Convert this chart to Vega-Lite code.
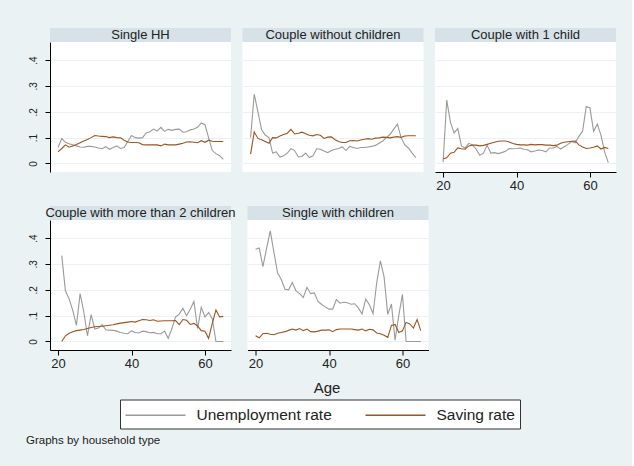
{
  "$schema": "https://vega.github.io/schema/vega-lite/v6.json",
  "background": "#EAF2F3",
  "padding": {"left": 26, "top": 28, "right": 16, "bottom": 19},
  "config": {"font": "Liberation Sans", "view": {"stroke": null}},
  "title": {"text": "Graphs by household type", "orient": "bottom", "anchor": "start", "frame": "bounds", "fontSize": 11.5, "fontWeight": "normal", "color": "#222222", "offset": 6, "dx": -2},
  "datasets": {
    "p1": [
      {"age":20,"Unemployment rate":0.062,"Saving rate":0.045},{"age":21,"Unemployment rate":0.097,"Saving rate":0.058},{"age":22,"Unemployment rate":0.082,"Saving rate":0.072},{"age":23,"Unemployment rate":0.076,"Saving rate":0.063},{"age":24,"Unemployment rate":0.072,"Saving rate":0.068},{"age":25,"Unemployment rate":0.068,"Saving rate":0.073},{"age":26,"Unemployment rate":0.064,"Saving rate":0.080},{"age":27,"Unemployment rate":0.063,"Saving rate":0.087},{"age":28,"Unemployment rate":0.066,"Saving rate":0.093},{"age":29,"Unemployment rate":0.066,"Saving rate":0.100},{"age":30,"Unemployment rate":0.064,"Saving rate":0.108},{"age":31,"Unemployment rate":0.060,"Saving rate":0.106},{"age":32,"Unemployment rate":0.057,"Saving rate":0.105},{"age":33,"Unemployment rate":0.065,"Saving rate":0.104},{"age":34,"Unemployment rate":0.055,"Saving rate":0.100},{"age":35,"Unemployment rate":0.062,"Saving rate":0.103},{"age":36,"Unemployment rate":0.068,"Saving rate":0.100},{"age":37,"Unemployment rate":0.058,"Saving rate":0.099},{"age":38,"Unemployment rate":0.062,"Saving rate":0.090},{"age":39,"Unemployment rate":0.085,"Saving rate":0.083},{"age":40,"Unemployment rate":0.108,"Saving rate":0.081},{"age":41,"Unemployment rate":0.100,"Saving rate":0.081},{"age":42,"Unemployment rate":0.098,"Saving rate":0.080},{"age":43,"Unemployment rate":0.100,"Saving rate":0.073},{"age":44,"Unemployment rate":0.118,"Saving rate":0.072},{"age":45,"Unemployment rate":0.123,"Saving rate":0.072},{"age":46,"Unemployment rate":0.133,"Saving rate":0.072},{"age":47,"Unemployment rate":0.125,"Saving rate":0.072},{"age":48,"Unemployment rate":0.140,"Saving rate":0.068},{"age":49,"Unemployment rate":0.124,"Saving rate":0.075},{"age":50,"Unemployment rate":0.132,"Saving rate":0.072},{"age":51,"Unemployment rate":0.128,"Saving rate":0.072},{"age":52,"Unemployment rate":0.132,"Saving rate":0.072},{"age":53,"Unemployment rate":0.133,"Saving rate":0.075},{"age":54,"Unemployment rate":0.121,"Saving rate":0.078},{"age":55,"Unemployment rate":0.123,"Saving rate":0.083},{"age":56,"Unemployment rate":0.130,"Saving rate":0.084},{"age":57,"Unemployment rate":0.133,"Saving rate":0.082},{"age":58,"Unemployment rate":0.140,"Saving rate":0.080},{"age":59,"Unemployment rate":0.157,"Saving rate":0.088},{"age":60,"Unemployment rate":0.150,"Saving rate":0.082},{"age":61,"Unemployment rate":0.100,"Saving rate":0.090},{"age":62,"Unemployment rate":0.050,"Saving rate":0.086},{"age":63,"Unemployment rate":0.038,"Saving rate":0.085},{"age":64,"Unemployment rate":0.030,"Saving rate":0.085},{"age":65,"Unemployment rate":0.016,"Saving rate":0.085}
    ],
    "p2": [
      {"age":20,"Unemployment rate":0.100,"Saving rate":0.036},{"age":21,"Unemployment rate":0.268,"Saving rate":0.122},{"age":22,"Unemployment rate":0.200,"Saving rate":0.097},{"age":23,"Unemployment rate":0.130,"Saving rate":0.092},{"age":24,"Unemployment rate":0.110,"Saving rate":0.085},{"age":25,"Unemployment rate":0.100,"Saving rate":0.078},{"age":26,"Unemployment rate":0.040,"Saving rate":0.100},{"age":27,"Unemployment rate":0.045,"Saving rate":0.099},{"age":28,"Unemployment rate":0.025,"Saving rate":0.106},{"age":29,"Unemployment rate":0.030,"Saving rate":0.112},{"age":30,"Unemployment rate":0.040,"Saving rate":0.117},{"age":31,"Unemployment rate":0.057,"Saving rate":0.132},{"age":32,"Unemployment rate":0.050,"Saving rate":0.114},{"age":33,"Unemployment rate":0.025,"Saving rate":0.117},{"age":34,"Unemployment rate":0.027,"Saving rate":0.121},{"age":35,"Unemployment rate":0.040,"Saving rate":0.115},{"age":36,"Unemployment rate":0.023,"Saving rate":0.109},{"age":37,"Unemployment rate":0.030,"Saving rate":0.107},{"age":38,"Unemployment rate":0.057,"Saving rate":0.112},{"age":39,"Unemployment rate":0.055,"Saving rate":0.109},{"age":40,"Unemployment rate":0.048,"Saving rate":0.097},{"age":41,"Unemployment rate":0.042,"Saving rate":0.102},{"age":42,"Unemployment rate":0.050,"Saving rate":0.103},{"age":43,"Unemployment rate":0.055,"Saving rate":0.092},{"age":44,"Unemployment rate":0.058,"Saving rate":0.085},{"age":45,"Unemployment rate":0.064,"Saving rate":0.081},{"age":46,"Unemployment rate":0.050,"Saving rate":0.081},{"age":47,"Unemployment rate":0.066,"Saving rate":0.088},{"age":48,"Unemployment rate":0.062,"Saving rate":0.089},{"age":49,"Unemployment rate":0.058,"Saving rate":0.087},{"age":50,"Unemployment rate":0.062,"Saving rate":0.091},{"age":51,"Unemployment rate":0.062,"Saving rate":0.094},{"age":52,"Unemployment rate":0.064,"Saving rate":0.096},{"age":53,"Unemployment rate":0.066,"Saving rate":0.094},{"age":54,"Unemployment rate":0.070,"Saving rate":0.098},{"age":55,"Unemployment rate":0.078,"Saving rate":0.099},{"age":56,"Unemployment rate":0.087,"Saving rate":0.102},{"age":57,"Unemployment rate":0.100,"Saving rate":0.101},{"age":58,"Unemployment rate":0.113,"Saving rate":0.099},{"age":59,"Unemployment rate":0.133,"Saving rate":0.102},{"age":60,"Unemployment rate":0.152,"Saving rate":0.104},{"age":61,"Unemployment rate":0.100,"Saving rate":0.101},{"age":62,"Unemployment rate":0.072,"Saving rate":0.106},{"age":63,"Unemployment rate":0.060,"Saving rate":0.107},{"age":64,"Unemployment rate":0.040,"Saving rate":0.107},{"age":65,"Unemployment rate":0.023,"Saving rate":0.107}
    ],
    "p3": [
      {"age":20,"Unemployment rate":0.005,"Saving rate":0.018},{"age":21,"Unemployment rate":0.245,"Saving rate":0.022},{"age":22,"Unemployment rate":0.160,"Saving rate":0.040},{"age":23,"Unemployment rate":0.118,"Saving rate":0.043},{"age":24,"Unemployment rate":0.135,"Saving rate":0.060},{"age":25,"Unemployment rate":0.068,"Saving rate":0.057},{"age":26,"Unemployment rate":0.060,"Saving rate":0.055},{"age":27,"Unemployment rate":0.078,"Saving rate":0.068},{"age":28,"Unemployment rate":0.072,"Saving rate":0.071},{"age":29,"Unemployment rate":0.055,"Saving rate":0.071},{"age":30,"Unemployment rate":0.032,"Saving rate":0.068},{"age":31,"Unemployment rate":0.040,"Saving rate":0.070},{"age":32,"Unemployment rate":0.070,"Saving rate":0.074},{"age":33,"Unemployment rate":0.040,"Saving rate":0.078},{"age":34,"Unemployment rate":0.042,"Saving rate":0.082},{"age":35,"Unemployment rate":0.038,"Saving rate":0.086},{"age":36,"Unemployment rate":0.042,"Saving rate":0.087},{"age":37,"Unemployment rate":0.047,"Saving rate":0.087},{"age":38,"Unemployment rate":0.058,"Saving rate":0.083},{"age":39,"Unemployment rate":0.057,"Saving rate":0.077},{"age":40,"Unemployment rate":0.058,"Saving rate":0.074},{"age":41,"Unemployment rate":0.060,"Saving rate":0.072},{"age":42,"Unemployment rate":0.055,"Saving rate":0.072},{"age":43,"Unemployment rate":0.053,"Saving rate":0.071},{"age":44,"Unemployment rate":0.045,"Saving rate":0.074},{"age":45,"Unemployment rate":0.048,"Saving rate":0.072},{"age":46,"Unemployment rate":0.052,"Saving rate":0.073},{"age":47,"Unemployment rate":0.050,"Saving rate":0.073},{"age":48,"Unemployment rate":0.045,"Saving rate":0.071},{"age":49,"Unemployment rate":0.060,"Saving rate":0.071},{"age":50,"Unemployment rate":0.060,"Saving rate":0.069},{"age":51,"Unemployment rate":0.066,"Saving rate":0.071},{"age":52,"Unemployment rate":0.056,"Saving rate":0.078},{"age":53,"Unemployment rate":0.065,"Saving rate":0.082},{"age":54,"Unemployment rate":0.074,"Saving rate":0.084},{"age":55,"Unemployment rate":0.085,"Saving rate":0.086},{"age":56,"Unemployment rate":0.080,"Saving rate":0.087},{"age":57,"Unemployment rate":0.105,"Saving rate":0.072},{"age":58,"Unemployment rate":0.125,"Saving rate":0.064},{"age":59,"Unemployment rate":0.220,"Saving rate":0.058},{"age":60,"Unemployment rate":0.215,"Saving rate":0.060},{"age":61,"Unemployment rate":0.125,"Saving rate":0.063},{"age":62,"Unemployment rate":0.152,"Saving rate":0.068},{"age":63,"Unemployment rate":0.110,"Saving rate":0.056},{"age":64,"Unemployment rate":0.045,"Saving rate":0.062},{"age":65,"Unemployment rate":0.003,"Saving rate":0.058}
    ],
    "p4": [
      {"age":21,"Unemployment rate":0.332,"Saving rate":0.000},{"age":22,"Unemployment rate":0.196,"Saving rate":0.022},{"age":23,"Unemployment rate":0.165,"Saving rate":0.032},{"age":24,"Unemployment rate":0.120,"Saving rate":0.038},{"age":25,"Unemployment rate":0.062,"Saving rate":0.042},{"age":26,"Unemployment rate":0.185,"Saving rate":0.044},{"age":27,"Unemployment rate":0.115,"Saving rate":0.046},{"age":28,"Unemployment rate":0.022,"Saving rate":0.050},{"age":29,"Unemployment rate":0.104,"Saving rate":0.054},{"age":30,"Unemployment rate":0.048,"Saving rate":0.057},{"age":31,"Unemployment rate":0.052,"Saving rate":0.058},{"age":32,"Unemployment rate":0.065,"Saving rate":0.059},{"age":33,"Unemployment rate":0.045,"Saving rate":0.061},{"age":34,"Unemployment rate":0.044,"Saving rate":0.063},{"age":35,"Unemployment rate":0.043,"Saving rate":0.065},{"age":36,"Unemployment rate":0.040,"Saving rate":0.068},{"age":37,"Unemployment rate":0.035,"Saving rate":0.071},{"age":38,"Unemployment rate":0.032,"Saving rate":0.073},{"age":39,"Unemployment rate":0.030,"Saving rate":0.075},{"age":40,"Unemployment rate":0.041,"Saving rate":0.077},{"age":41,"Unemployment rate":0.035,"Saving rate":0.075},{"age":42,"Unemployment rate":0.033,"Saving rate":0.080},{"age":43,"Unemployment rate":0.040,"Saving rate":0.085},{"age":44,"Unemployment rate":0.038,"Saving rate":0.084},{"age":45,"Unemployment rate":0.034,"Saving rate":0.081},{"age":46,"Unemployment rate":0.035,"Saving rate":0.084},{"age":47,"Unemployment rate":0.030,"Saving rate":0.078},{"age":48,"Unemployment rate":0.030,"Saving rate":0.079},{"age":49,"Unemployment rate":0.040,"Saving rate":0.080},{"age":50,"Unemployment rate":0.012,"Saving rate":0.080},{"age":51,"Unemployment rate":0.050,"Saving rate":0.080},{"age":52,"Unemployment rate":0.095,"Saving rate":0.081},{"age":53,"Unemployment rate":0.106,"Saving rate":0.065},{"age":54,"Unemployment rate":0.128,"Saving rate":0.085},{"age":55,"Unemployment rate":0.100,"Saving rate":0.082},{"age":56,"Unemployment rate":0.125,"Saving rate":0.066},{"age":57,"Unemployment rate":0.155,"Saving rate":0.070},{"age":58,"Unemployment rate":0.050,"Saving rate":0.060},{"age":59,"Unemployment rate":0.132,"Saving rate":0.042},{"age":60,"Unemployment rate":0.095,"Saving rate":0.040},{"age":61,"Unemployment rate":0.112,"Saving rate":0.012},{"age":62,"Unemployment rate":0.088,"Saving rate":0.070},{"age":63,"Unemployment rate":0.000,"Saving rate":0.122},{"age":64,"Unemployment rate":0.000,"Saving rate":0.095},{"age":65,"Unemployment rate":0.000,"Saving rate":0.097}
    ],
    "p5": [
      {"age":20,"Unemployment rate":0.357,"Saving rate":0.022},{"age":21,"Unemployment rate":0.362,"Saving rate":0.014},{"age":22,"Unemployment rate":0.290,"Saving rate":0.030},{"age":23,"Unemployment rate":0.360,"Saving rate":0.032},{"age":24,"Unemployment rate":0.428,"Saving rate":0.028},{"age":25,"Unemployment rate":0.345,"Saving rate":0.026},{"age":26,"Unemployment rate":0.265,"Saving rate":0.032},{"age":27,"Unemployment rate":0.240,"Saving rate":0.035},{"age":28,"Unemployment rate":0.202,"Saving rate":0.038},{"age":29,"Unemployment rate":0.200,"Saving rate":0.043},{"age":30,"Unemployment rate":0.228,"Saving rate":0.048},{"age":31,"Unemployment rate":0.196,"Saving rate":0.044},{"age":32,"Unemployment rate":0.185,"Saving rate":0.050},{"age":33,"Unemployment rate":0.170,"Saving rate":0.042},{"age":34,"Unemployment rate":0.210,"Saving rate":0.048},{"age":35,"Unemployment rate":0.185,"Saving rate":0.038},{"age":36,"Unemployment rate":0.188,"Saving rate":0.037},{"age":37,"Unemployment rate":0.155,"Saving rate":0.040},{"age":38,"Unemployment rate":0.143,"Saving rate":0.044},{"age":39,"Unemployment rate":0.133,"Saving rate":0.044},{"age":40,"Unemployment rate":0.125,"Saving rate":0.045},{"age":41,"Unemployment rate":0.125,"Saving rate":0.038},{"age":42,"Unemployment rate":0.162,"Saving rate":0.046},{"age":43,"Unemployment rate":0.148,"Saving rate":0.048},{"age":44,"Unemployment rate":0.152,"Saving rate":0.048},{"age":45,"Unemployment rate":0.150,"Saving rate":0.048},{"age":46,"Unemployment rate":0.144,"Saving rate":0.048},{"age":47,"Unemployment rate":0.146,"Saving rate":0.046},{"age":48,"Unemployment rate":0.130,"Saving rate":0.044},{"age":49,"Unemployment rate":0.106,"Saving rate":0.048},{"age":50,"Unemployment rate":0.164,"Saving rate":0.041},{"age":51,"Unemployment rate":0.142,"Saving rate":0.047},{"age":52,"Unemployment rate":0.108,"Saving rate":0.045},{"age":53,"Unemployment rate":0.228,"Saving rate":0.033},{"age":54,"Unemployment rate":0.312,"Saving rate":0.030},{"age":55,"Unemployment rate":0.250,"Saving rate":0.024},{"age":56,"Unemployment rate":0.105,"Saving rate":0.016},{"age":57,"Unemployment rate":0.145,"Saving rate":0.062},{"age":58,"Unemployment rate":0.005,"Saving rate":0.066},{"age":59,"Unemployment rate":0.100,"Saving rate":0.035},{"age":60,"Unemployment rate":0.182,"Saving rate":0.041},{"age":61,"Unemployment rate":0.000,"Saving rate":0.074},{"age":62,"Unemployment rate":0.000,"Saving rate":0.068},{"age":63,"Unemployment rate":0.000,"Saving rate":0.052},{"age":64,"Unemployment rate":0.000,"Saving rate":0.085},{"age":65,"Unemployment rate":0.000,"Saving rate":0.042}
    ]
  },
  "spacing": 14,
  "vconcat": [
    {
      "spacing": 11.5,
      "hconcat": [
        {"spacing": 0, "vconcat": [
          {"width": 181, "height": 14, "view": {"fill": "#D6E2E7", "stroke": null}, "data": {"values": [{"h": "Single HH"}]}, "mark": {"type": "text", "fontSize": 13, "color": "#222222"}, "encoding": {"text": {"field": "h"}}},
          {"width": 181, "height": 130, "view": {"fill": "#ffffff", "stroke": null}, "data": {"name": "p1"},
           "transform": [{"fold": ["Unemployment rate", "Saving rate"], "as": ["series", "value"]}],
           "mark": {"type": "line", "strokeWidth": 1.1},
           "encoding": {
             "x": {"field": "age", "type": "quantitative", "scale": {"domain": [17.8, 67.1], "nice": false, "zero": false}, "axis": null},
             "y": {"field": "value", "type": "quantitative", "scale": {"domain": [-0.033, 0.47], "nice": false, "zero": false}, "axis": {"values": [0, 0.1, 0.2, 0.3, 0.4], "title": null, "grid": true, "gridColor": "#EAF2F3", "domainColor": "#000000", "tickColor": "#000000", "tickSize": 5, "labelAngle": 270, "labelAlign": "center", "labelBaseline": "bottom", "labelFontSize": 10, "labelPadding": 7, "labelColor": "#222222", "labelExpr": "datum.value == 0 ? '0' : replace(format(datum.value, '.1f'), '0.', '.')"}},
             "color": {"field": "series", "type": "nominal", "scale": {"domain": ["Unemployment rate", "Saving rate"], "range": ["#9a9a9a", "#9a5520"]}, "legend": {"title": null, "orient": "none", "direction": "horizontal", "legendX": 70, "legendY": 371.5, "symbolType": "M-3,0H3", "symbolSize": 400, "symbolOffset": 20, "symbolStrokeWidth": 1.5, "labelFontSize": 15.5, "labelColor": "#222222", "labelOffset": 30, "columnPadding": 30, "padding": 4.5, "strokeColor": "#333333", "fillColor": "#ffffff", "labelLimit": 300}}
           }}
        ]},
        {"spacing": 0, "vconcat": [
          {"width": 181, "height": 14, "view": {"fill": "#D6E2E7", "stroke": null}, "data": {"values": [{"h": "Couple without children"}]}, "mark": {"type": "text", "fontSize": 13, "color": "#222222"}, "encoding": {"text": {"field": "h"}}},
          {"width": 181, "height": 130, "view": {"fill": "#ffffff", "stroke": null}, "data": {"name": "p2"},
           "transform": [{"fold": ["Unemployment rate", "Saving rate"], "as": ["series", "value"]}],
           "mark": {"type": "line", "strokeWidth": 1.1},
           "encoding": {
             "x": {"field": "age", "type": "quantitative", "scale": {"domain": [17.8, 67.1], "nice": false, "zero": false}, "axis": null},
             "y": {"field": "value", "type": "quantitative", "scale": {"domain": [-0.033, 0.47], "nice": false, "zero": false}, "axis": {"values": [0, 0.1, 0.2, 0.3, 0.4], "title": null, "grid": true, "gridColor": "#EAF2F3", "domain": false, "ticks": false, "labels": false}},
             "color": {"field": "series", "type": "nominal", "scale": {"domain": ["Unemployment rate", "Saving rate"], "range": ["#9a9a9a", "#9a5520"]}, "legend": {"title": null, "orient": "none", "direction": "horizontal", "legendX": 70, "legendY": 371.5, "symbolType": "M-3,0H3", "symbolSize": 400, "symbolOffset": 20, "symbolStrokeWidth": 1.5, "labelFontSize": 15.5, "labelColor": "#222222", "labelOffset": 30, "columnPadding": 30, "padding": 4.5, "strokeColor": "#333333", "fillColor": "#ffffff", "labelLimit": 300}}
           }}
        ]},
        {"spacing": 0, "vconcat": [
          {"width": 181, "height": 14, "view": {"fill": "#D6E2E7", "stroke": null}, "data": {"values": [{"h": "Couple with 1 child"}]}, "mark": {"type": "text", "fontSize": 13, "color": "#222222"}, "encoding": {"text": {"field": "h"}}},
          {"width": 181, "height": 130, "view": {"fill": "#ffffff", "stroke": null}, "data": {"name": "p3"},
           "transform": [{"fold": ["Unemployment rate", "Saving rate"], "as": ["series", "value"]}],
           "mark": {"type": "line", "strokeWidth": 1.1},
           "encoding": {
             "x": {"field": "age", "type": "quantitative", "scale": {"domain": [17.8, 67.1], "nice": false, "zero": false}, "axis": {"values": [20, 40, 60], "title": null, "grid": false, "domainColor": "#000000", "tickColor": "#000000", "tickSize": 5, "labelFontSize": 13, "labelPadding": 2, "labelColor": "#222222"}},
             "y": {"field": "value", "type": "quantitative", "scale": {"domain": [-0.033, 0.47], "nice": false, "zero": false}, "axis": {"values": [0, 0.1, 0.2, 0.3, 0.4], "title": null, "grid": true, "gridColor": "#EAF2F3", "domain": false, "ticks": false, "labels": false}},
             "color": {"field": "series", "type": "nominal", "scale": {"domain": ["Unemployment rate", "Saving rate"], "range": ["#9a9a9a", "#9a5520"]}, "legend": {"title": null, "orient": "none", "direction": "horizontal", "legendX": 70, "legendY": 371.5, "symbolType": "M-3,0H3", "symbolSize": 400, "symbolOffset": 20, "symbolStrokeWidth": 1.5, "labelFontSize": 15.5, "labelColor": "#222222", "labelOffset": 30, "columnPadding": 30, "padding": 4.5, "strokeColor": "#333333", "fillColor": "#ffffff", "labelLimit": 300}}
           }}
        ]}
      ]
    },
    {
      "spacing": 11.5,
      "hconcat": [
        {"spacing": 0, "vconcat": [
          {"width": 181, "height": 14, "view": {"fill": "#D6E2E7", "stroke": null}, "data": {"values": [{"h": "Couple with more than 2 children"}]}, "mark": {"type": "text", "fontSize": 13, "color": "#222222"}, "encoding": {"text": {"field": "h"}}},
          {"width": 181, "height": 130, "view": {"fill": "#ffffff", "stroke": null}, "data": {"name": "p4"},
           "transform": [{"fold": ["Unemployment rate", "Saving rate"], "as": ["series", "value"]}],
           "mark": {"type": "line", "strokeWidth": 1.1},
           "encoding": {
             "x": {"field": "age", "type": "quantitative", "scale": {"domain": [17.8, 67.1], "nice": false, "zero": false}, "axis": {"values": [20, 40, 60], "title": null, "grid": false, "domainColor": "#000000", "tickColor": "#000000", "tickSize": 5, "labelFontSize": 13, "labelPadding": 2, "labelColor": "#222222"}},
             "y": {"field": "value", "type": "quantitative", "scale": {"domain": [-0.033, 0.47], "nice": false, "zero": false}, "axis": {"values": [0, 0.1, 0.2, 0.3, 0.4], "title": null, "grid": true, "gridColor": "#EAF2F3", "domainColor": "#000000", "tickColor": "#000000", "tickSize": 5, "labelAngle": 270, "labelAlign": "center", "labelBaseline": "bottom", "labelFontSize": 10, "labelPadding": 7, "labelColor": "#222222", "labelExpr": "datum.value == 0 ? '0' : replace(format(datum.value, '.1f'), '0.', '.')"}},
             "color": {"field": "series", "type": "nominal", "scale": {"domain": ["Unemployment rate", "Saving rate"], "range": ["#9a9a9a", "#9a5520"]}, "legend": {"title": null, "orient": "none", "direction": "horizontal", "legendX": 70, "legendY": 371.5, "symbolType": "M-3,0H3", "symbolSize": 400, "symbolOffset": 20, "symbolStrokeWidth": 1.5, "labelFontSize": 15.5, "labelColor": "#222222", "labelOffset": 30, "columnPadding": 30, "padding": 4.5, "strokeColor": "#333333", "fillColor": "#ffffff", "labelLimit": 300}}
           }}
        ]},
        {"spacing": 0, "vconcat": [
          {"width": 181, "height": 14, "view": {"fill": "#D6E2E7", "stroke": null}, "data": {"values": [{"h": "Single with children"}]}, "mark": {"type": "text", "fontSize": 13, "color": "#222222"}, "encoding": {"text": {"field": "h"}}},
          {"width": 181, "height": 130, "view": {"fill": "#ffffff", "stroke": null}, "data": {"name": "p5"},
           "transform": [{"fold": ["Unemployment rate", "Saving rate"], "as": ["series", "value"]}],
           "mark": {"type": "line", "strokeWidth": 1.1},
           "encoding": {
             "x": {"field": "age", "type": "quantitative", "scale": {"domain": [17.8, 67.1], "nice": false, "zero": false}, "axis": {"values": [20, 40, 60], "title": "Age", "titleFontSize": 15, "titleFontWeight": "normal", "titleColor": "#222222", "titlePadding": 10, "titleX": 79, "grid": false, "domainColor": "#000000", "tickColor": "#000000", "tickSize": 5, "labelFontSize": 13, "labelPadding": 2, "labelColor": "#222222"}},
             "y": {"field": "value", "type": "quantitative", "scale": {"domain": [-0.033, 0.47], "nice": false, "zero": false}, "axis": {"values": [0, 0.1, 0.2, 0.3, 0.4], "title": null, "grid": true, "gridColor": "#EAF2F3", "domain": false, "ticks": false, "labels": false}},
             "color": {"field": "series", "type": "nominal", "scale": {"domain": ["Unemployment rate", "Saving rate"], "range": ["#9a9a9a", "#9a5520"]}, "legend": {"title": null, "orient": "none", "direction": "horizontal", "legendX": 70, "legendY": 371.5, "symbolType": "M-3,0H3", "symbolSize": 400, "symbolOffset": 20, "symbolStrokeWidth": 1.5, "labelFontSize": 15.5, "labelColor": "#222222", "labelOffset": 30, "columnPadding": 30, "padding": 4.5, "strokeColor": "#333333", "fillColor": "#ffffff", "labelLimit": 300}}
           }}
        ]}
      ]
    }
  ],
  "resolve": {"scale": {"color": "shared"}}
}
